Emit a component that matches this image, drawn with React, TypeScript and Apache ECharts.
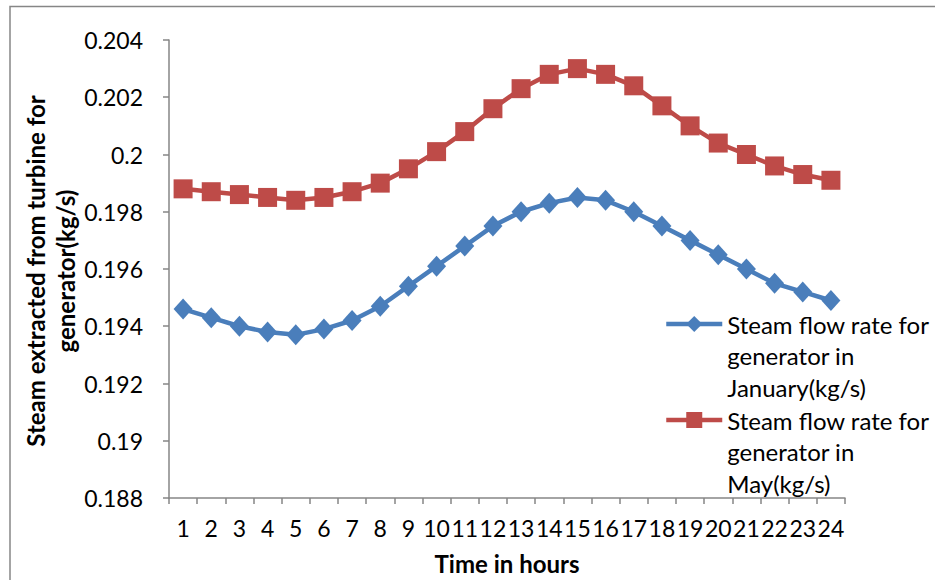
import React, { useEffect, useRef } from "react";
import * as echarts from "echarts";

const hours = ["1","2","3","4","5","6","7","8","9","10","11","12","13","14","15","16","17","18","19","20","21","22","23","24"];
const january = [0.1946,0.1943,0.1940,0.1938,0.1937,0.1939,0.1942,0.1947,0.1954,0.1961,0.1968,0.1975,0.1980,0.1983,0.1985,0.1984,0.1980,0.1975,0.1970,0.1965,0.1960,0.1955,0.1952,0.1949];
const may = [0.1988,0.1987,0.1986,0.1985,0.1984,0.1985,0.1987,0.1990,0.1995,0.2001,0.2008,0.2016,0.2023,0.2028,0.2030,0.2028,0.2024,0.2017,0.2010,0.2004,0.2000,0.1996,0.1993,0.1991];
const janName = "Steam flow rate for\ngenerator in\nJanuary(kg/s)";
const mayName = "Steam flow rate for\ngenerator in\nMay(kg/s)";
const yTitle = "Steam extracted from turbine for\ngenerator(kg/s)";
const xTitle = "Time in hours";

const FONT = "Lato, 'Noto Sans', sans-serif";
const BLUE = "#4A7EBB";
const RED = "#BE4B48";
const GRAY = "#868686";

export default function App() {
  const ref = useRef<HTMLDivElement>(null);
  useEffect(() => {
    if (!ref.current) return;
    const chart = echarts.init(ref.current, undefined, { renderer: "svg" });
    const legendText = {
      fontFamily: FONT,
      fontSize: 24,
      color: "#000",
      lineHeight: 31.5,
    };
    const legendCommon = {
      orient: "vertical",
      left: 664,
      padding: 0,
      itemWidth: 56,
      itemHeight: 20,
      textStyle: legendText,
      lineStyle: { width: 4.5 },
      formatter: (name: string) => "\n\n" + name,
    };
    chart.setOption({
      animation: false,
      backgroundColor: "#fff",
      grid: { left: 169, right: 90, top: 40, bottom: 82 },
      graphic: [
        {
          type: "rect",
          silent: true,
          z: -10,
          shape: { x: 10, y: 6.5, width: 940, height: 600 },
          style: { fill: "none", stroke: GRAY, lineWidth: 1.5 },
        },
        {
          type: "text",
          x: 50,
          y: 271,
          rotation: Math.PI / 2,
          style: {
            text: yTitle,
            fontFamily: FONT,
            fontWeight: "bold",
            fontSize: 24,
            lineHeight: 30,
            align: "center",
            verticalAlign: "middle",
            fill: "#000",
          },
        },
        {
          type: "text",
          x: 507,
          y: 563,
          style: {
            text: xTitle,
            fontFamily: FONT,
            fontWeight: "bold",
            fontSize: 24,
            align: "center",
            verticalAlign: "middle",
            fill: "#000",
          },
        },
      ],
      legend: [
        { ...legendCommon, data: [janName], top: 324 - 78.75 },
        { ...legendCommon, data: [mayName], top: 420 - 78.75 },
      ],
      xAxis: {
        type: "category",
        data: hours,
        boundaryGap: true,
        axisLine: { lineStyle: { color: GRAY, width: 1.5 } },
        axisTick: { show: true, length: 6, lineStyle: { color: GRAY, width: 1.5 } },
        axisLabel: { interval: 0, color: "#000", fontFamily: FONT, fontSize: 23, margin: 18 },
        splitLine: { show: false },
      },
      yAxis: {
        type: "value",
        min: 0.188,
        max: 0.204,
        interval: 0.002,
        axisLine: { show: true, lineStyle: { color: GRAY, width: 1.5 } },
        axisTick: { show: true, length: 6, lineStyle: { color: GRAY, width: 1.5 } },
        axisLabel: {
          color: "#000",
          fontFamily: FONT,
          fontSize: 23,
          margin: 26,
          formatter: (v: number) => String(parseFloat(v.toFixed(3))),
        },
        splitLine: { show: false },
      },
      series: [
        {
          name: janName,
          type: "line",
          data: january,
          symbol: "diamond",
          symbolSize: [19, 21],
          lineStyle: { color: BLUE, width: 4.5 },
          itemStyle: { color: BLUE },
        },
        {
          name: mayName,
          type: "line",
          data: may,
          symbol: "rect",
          symbolSize: [19, 19],
          lineStyle: { color: RED, width: 4.5 },
          itemStyle: { color: RED },
        },
      ],
    });
    return () => chart.dispose();
  }, []);
  return (
    <div
      ref={ref}
      style={{ position: "fixed", left: 0, top: 0, width: 935, height: 580 }}
    />
  );
}
